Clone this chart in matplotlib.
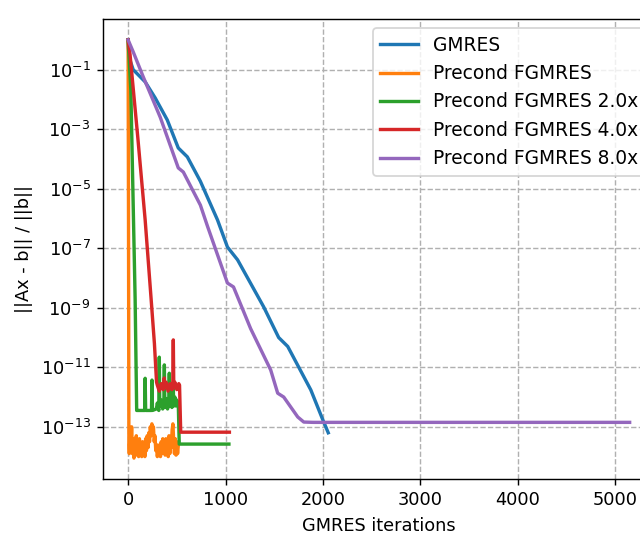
import numpy as np
import matplotlib
matplotlib.use("Agg")
import matplotlib.pyplot as plt

# residual histories, stored as log10(||Ax - b|| / ||b||)
gmres_iter = [0, 8, 52, 175, 278, 402, 515, 608, 742, 918, 1020, 1124, 1392, 1546, 1639, 1876, 2000, 2055]
gmres_log = [0, -0.57, -1.0, -1.41, -1.95, -2.69, -3.63, -3.93, -4.75, -6.05, -6.96, -7.39, -8.97, -10.0, -10.3, -11.76, -12.77, -13.2]

# plain preconditioned FGMRES: sharp drop then noise near machine precision
pre_iter = [0, 4, 8] + list(range(12, 520, 8))
pre_log = [0, -6.0, -13.6,
           -13.9, -13.1, -13.8, -13.0, -13.9, -13.4, -14.05, -13.5,
           -13.9, -13.3, -13.95, -13.6, -14.0, -13.4, -13.9, -13.7,
           -14.0, -13.5, -13.9, -13.6, -14.0, -13.4, -13.8, -13.3,
           -13.7, -13.2, -13.5, -13.0, -13.3, -12.9, -13.2, -13.0,
           -13.5, -13.3, -13.8, -13.6, -14.0, -13.7, -13.95, -13.6,
           -14.0, -13.5, -13.9, -13.4, -13.8, -13.5, -13.95, -13.4,
           -13.9, -13.6, -14.0, -13.3, -13.9, -13.4, -13.7, -13.1,
           -12.9, -13.5, -13.9, -13.4, -13.95, -13.5, -13.9, -13.6]

x2_iter = [0, 28, 55, 72, 88, 100, 170, 175, 180, 240, 245, 250, 290, 300, 315, 320,
           325, 340, 355, 367, 372, 377, 390, 405, 418, 423, 428, 440, 450, 458, 463,
           468, 480, 490, 500, 510, 515, 525, 1035]
x2_log = [0, -1.7, -6.0, -8.7, -12.45, -12.45, -12.45, -11.37, -12.45, -12.45, -11.43,
          -12.45, -12.4, -12.2, -12.45, -10.66, -12.3, -12.1, -12.4, -12.2, -10.92,
          -12.35, -12.05, -12.4, -12.1, -11.2, -12.3, -12.0, -12.35, -12.1, -11.5,
          -12.3, -12.0, -12.3, -12.1, -12.25, -12.2, -13.58, -13.58]

x4_iter = [0, 20, 100, 175, 237, 270, 292, 300, 320, 340, 360, 366, 371, 376, 390, 410,
           430, 450, 459, 464, 469, 480, 500, 520, 528, 540, 1040]
x4_log = [0, -0.5, -3.3, -6.05, -8.74, -10.2, -11.5, -11.6, -11.8, -11.55, -11.75, -11.6,
          -11.36, -11.7, -11.5, -11.8, -11.55, -11.75, -11.6, -10.08, -11.7, -11.5,
          -11.75, -11.55, -11.6, -13.18, -13.18]

x8_iter = [0, 52, 155, 330, 515, 567, 742, 814, 1020, 1082, 1258, 1464, 1536, 1598, 1742, 1804, 1900, 5150]
x8_log = [0, -0.4, -1.24, -2.6, -4.3, -4.44, -5.55, -6.25, -8.17, -8.3, -9.7, -11.09, -11.87,
          -12.0, -12.67, -12.84, -12.85, -12.85]

series = [
    ("GMRES", gmres_iter, gmres_log),
    ("Precond FGMRES", pre_iter, pre_log),
    ("Precond FGMRES 2.0x", x2_iter, x2_log),
    ("Precond FGMRES 4.0x", x4_iter, x4_log),
    ("Precond FGMRES 8.0x", x8_iter, x8_log),
]

fig = plt.figure(figsize=(5.0, 538 / 128), dpi=128)
ax = fig.add_axes([0.161, 0.1097, 0.862, 0.855])

for name, it, lg in series:
    ax.plot(it, 10.0 ** np.array(lg), label=name, lw=1.9)

ax.set_yscale("log")
ax.grid(True, linestyle="--")
ax.set_xlabel("GMRES iterations")
ax.set_ylabel("||Ax - b|| / ||b||")
ax.legend(loc="upper right", fontsize=10.5)

fig.savefig("out.png", dpi=128)
